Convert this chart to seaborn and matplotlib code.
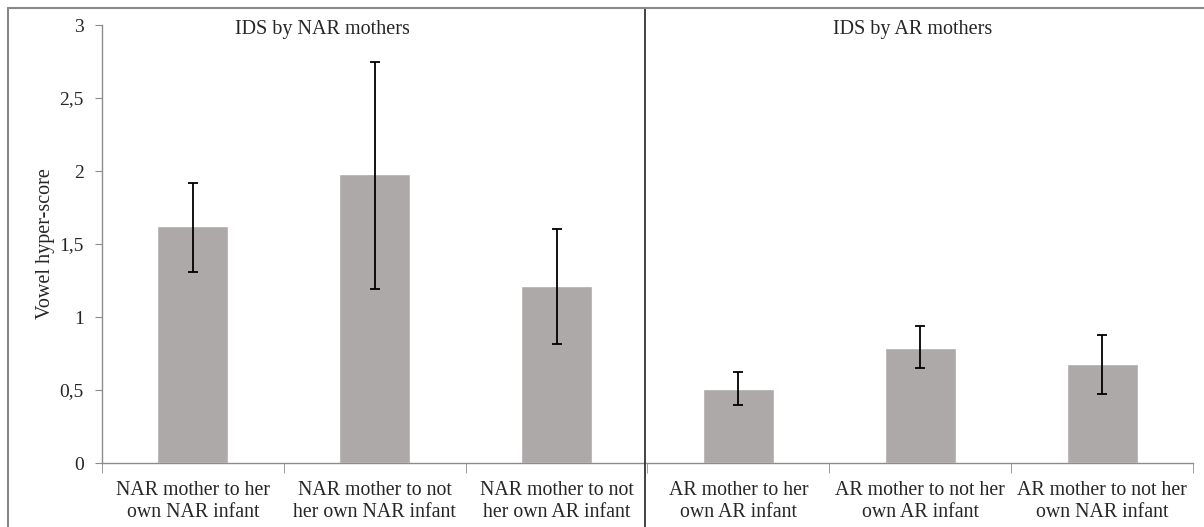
import matplotlib
matplotlib.use('Agg')
import matplotlib.pyplot as plt
from matplotlib.lines import Line2D
from matplotlib.ticker import FuncFormatter, FixedLocator
import seaborn as sns
import pandas as pd
import numpy as np

# data
categories = [
    "NAR mother to her\nown NAR infant",
    "NAR mother to not\nher own NAR infant",
    "NAR mother to not\nher own AR infant",
    "AR mother to her\nown AR infant",
    "AR mother to not her\nown AR infant",
    "AR mother to not her\nown NAR infant",
]
scores = [1.62, 1.98, 1.21, 0.51, 0.79, 0.68]
err_low = [1.31, 1.19, 0.815, 0.40, 0.65, 0.47]
err_high = [1.92, 2.75, 1.60, 0.62, 0.94, 0.88]
group_titles = ["IDS by NAR mothers", "IDS by AR mothers"]

df = pd.DataFrame({"category": categories, "score": scores})

sns.set_style("white")
plt.rcParams['font.family'] = ['Liberation Serif', 'DejaVu Serif']

W, H = 1204, 527
fig = plt.figure(figsize=(W / 100, H / 100), dpi=100)
ax = fig.add_axes([102 / W, 1 - 463 / H, (1193 - 102) / W, (463 - 25) / H])

sns.barplot(data=df, x="category", y="score", color="#ada9a8", width=0.39,
            errorbar=None, saturation=1, ax=ax)

x = np.arange(len(categories))
s = np.array(scores)
yerr = [s - np.array(err_low), np.array(err_high) - s]
ax.errorbar(x, s, yerr=yerr, fmt='none', ecolor='black', elinewidth=1.3,
            capsize=3.5, capthick=1.3)

ax.set_xlim(-0.5, len(categories) - 0.5)
ax.set_ylim(0, 3)
ax.set_yticks([0, 0.5, 1, 1.5, 2, 2.5, 3])
ax.yaxis.set_major_formatter(FuncFormatter(lambda v, p: f"{v:g}".replace('.', ',')))
ax.set_xlabel("")
ax.set_ylabel("Vowel hyper-score", fontsize=14.5, labelpad=3)

for side in ["top", "right"]:
    ax.spines[side].set_visible(False)
for side in ["left", "bottom"]:
    ax.spines[side].set_color("#8c8c8c")
    ax.spines[side].set_linewidth(1.0)

ax.tick_params(axis='y', which='major', length=5, color="#8c8c8c", labelsize=14,
               left=True, pad=8)
ax.tick_params(axis='x', which='major', length=0, labelsize=14.3, pad=13)
ax.xaxis.set_minor_locator(FixedLocator(np.arange(-0.5, len(categories), 1.0)))
ax.tick_params(axis='x', which='minor', length=7, color="#8c8c8c", bottom=True)
for lab in ax.get_xticklabels():
    lab.set_linespacing(1.22)

# group titles
ax.text(0.71, 2.97, group_titles[0], ha='center', va='center', fontsize=14.5)
ax.text(3.96, 2.97, group_titles[1], ha='center', va='center', fontsize=14.5)

# divider between groups and outer frame
fig.add_artist(Line2D([645 / W, 645 / W], [0, 1 - 8 / H], color='#333333', lw=1.3))
fig.add_artist(Line2D([8 / W, 1], [1 - 8 / H, 1 - 8 / H], color='#888888', lw=1.5))
fig.add_artist(Line2D([8 / W, 8 / W], [0, 1 - 8 / H], color='#888888', lw=1.5))

fig.savefig("out.png", dpi=100)
